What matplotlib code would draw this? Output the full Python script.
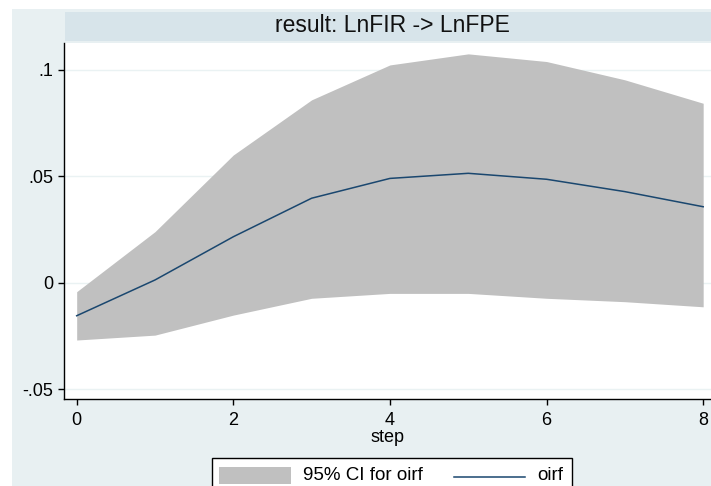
import matplotlib
matplotlib.use('Agg')
import matplotlib.pyplot as plt
from matplotlib.patches import Rectangle
from matplotlib.lines import Line2D

# impulse response: LnFIR -> LnFPE
step = [0, 1, 2, 3, 4, 5, 6, 7, 8]
oirf = [-0.0155, 0.0013, 0.0216, 0.0397, 0.0490, 0.0514, 0.0486, 0.0428, 0.0357]
ci_lower = [-0.0269, -0.0246, -0.0152, -0.0073, -0.0050, -0.0050, -0.0073, -0.0089, -0.0113]
ci_upper = [-0.0042, 0.0240, 0.0600, 0.0859, 0.1023, 0.1075, 0.1039, 0.0953, 0.0843]
x_ticks = [0, 2, 4, 6, 8]
y_ticks = [-0.05, 0, 0.05, 0.1]
y_ticklabels = ['-.05', '0', '.05', '.1']

plt.rcParams['font.family'] = ['Liberation Sans', 'DejaVu Sans']

W, H = 711, 486
fig = plt.figure(figsize=(W / 100, H / 100), dpi=100)
fig.patch.set_facecolor('white')


def px_rect(x0, y0, x1, y1, color, z=0):
    # rectangle given in image pixels (y from top)
    r = Rectangle((x0 / W, 1 - y1 / H), (x1 - x0) / W, (y1 - y0) / H,
                  transform=fig.transFigure, facecolor=color, edgecolor='none', zorder=z)
    fig.add_artist(r)
    return r


bg = '#e8f0f2'
px_rect(12, 9, W, H, bg, z=-10)
px_rect(65, 12, W, 40.7, '#d7e4ea', z=-9)
fig.text(392 / W, 1 - 32.3 / H, 'result: LnFIR -> LnFPE', ha='center', va='baseline',
         fontsize=16.5, color='#111111')

ax = fig.add_axes([64 / W, 1 - 399 / H, (W - 64) / W, (399 - 43) / H])
ax.set_facecolor('white')

ax.fill_between(step, ci_lower, ci_upper, color='#c0c0c0', linewidth=0, label='95% CI for oirf')
ax.plot(step, oirf, color='#1a476f', linewidth=1.1, label='oirf')

ax.set_xlim(-0.162, 8.1)
ax.set_ylim(-0.0546, 0.1126)
ax.set_xticks(x_ticks)
ax.set_yticks(y_ticks)
ax.set_yticklabels(y_ticklabels)
ax.grid(axis='y', color='#eaf2f3', linewidth=1.0)
ax.set_axisbelow(True)
for s in ['top', 'right']:
    ax.spines[s].set_visible(False)
for s in ['left', 'bottom']:
    ax.spines[s].set_color('black')
    ax.spines[s].set_linewidth(1.0)
ax.tick_params(axis='both', direction='out', length=4.5, width=1, labelsize=13, colors='black')
ax.tick_params(axis='x', pad=5)
ax.tick_params(axis='y', pad=3)
ax.set_xlabel('step', fontsize=13, labelpad=0)

# legend box at the bottom (cut off by the image edge)
leg = px_rect(211.7, 458.3, 571.7, H + 5, 'white', z=5)
leg.set_edgecolor('black')
leg.set_linewidth(1.0)
px_rect(219, 466.7, 291, 484, '#c0c0c0', z=7)
fig.text(303 / W, 1 - 480 / H, '95% CI for oirf', ha='left', va='baseline', fontsize=13.5, zorder=7)
fig.add_artist(Line2D([454 / W, 525 / W], [1 - 476.7 / H, 1 - 476.7 / H],
                      transform=fig.transFigure, color='#1a476f', linewidth=1.1, zorder=7))
fig.text(537 / W, 1 - 480 / H, 'oirf', ha='left', va='baseline', fontsize=13.5, zorder=7)

plt.savefig('out.png', dpi=100, facecolor=fig.get_facecolor())
plt.close()
